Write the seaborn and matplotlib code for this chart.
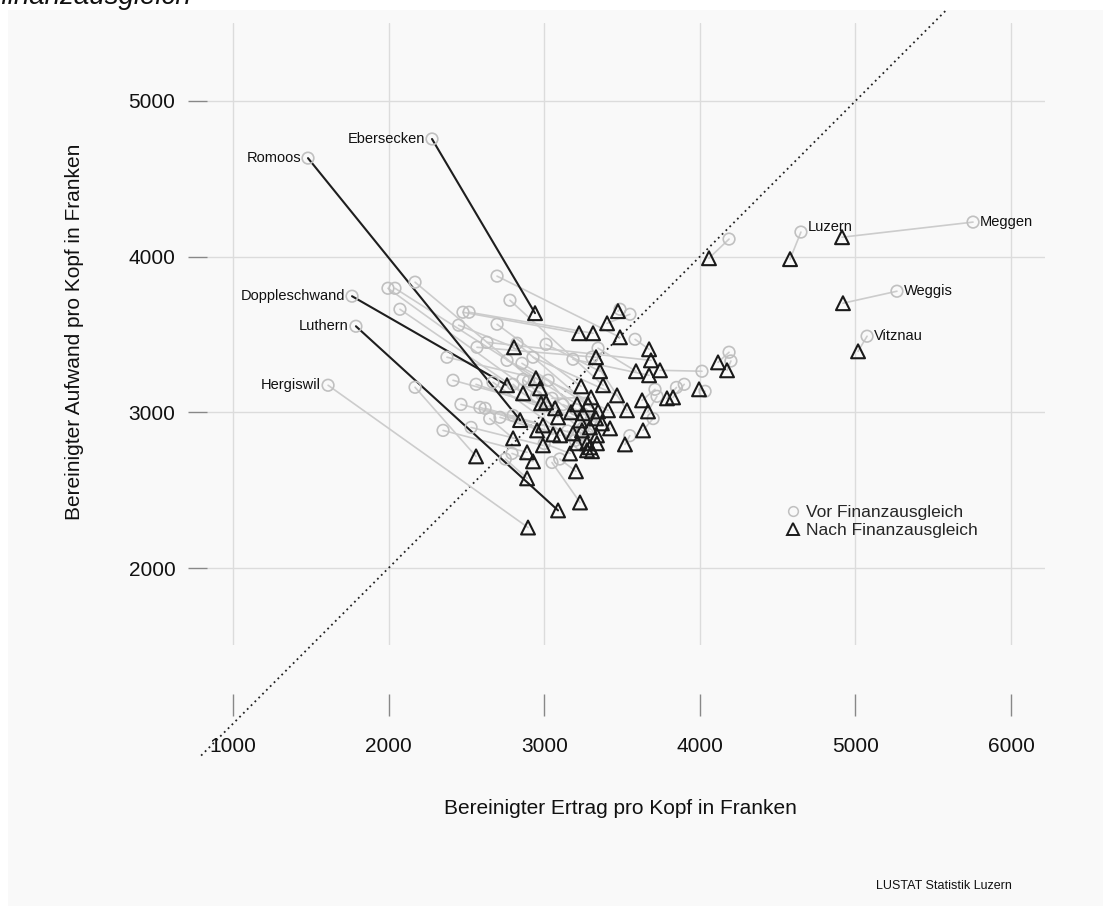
import numpy as np
import pandas as pd
import seaborn as sns
import matplotlib.pyplot as plt
from matplotlib.lines import Line2D
from matplotlib.patches import Rectangle

# Bereinigter Ertrag / Aufwand pro Kopf (Franken), vor und nach Finanzausgleich
gemeinde = [
    "Romoos", "Ebersecken", "Doppleschwand", "Luthern", "Hergiswil",
    "Luzern", "Meggen", "Weggis", "Vitznau", "",
] + [""] * 67

ertrag_vor = [
    1482, 2279, 1765, 1790, 1611, 4650, 5756, 5267, 5075, 4188,
    1996, 2041, 2073, 2170, 2697, 2780, 2478, 2517, 2697, 3487,
    3551, 3012, 3185, 2928, 2857, 2761, 2568, 2632, 2375, 2414,
    2562, 2465, 2587, 2620, 2716, 2350, 2530, 2793, 3050, 3346,
    3584, 4014, 3712, 3725, 4034, 4188, 4200, 3307, 3025, 2864,
    2825, 2671, 2170, 2450, 2900, 2800, 3850, 3900, 3050, 2950,
    3200, 3250, 3300, 3700, 3250, 2650, 3150, 3000, 3200, 3280,
    3550, 3100, 2750, 3230, 3200, 2800, 3120,
]
aufwand_vor = [
    4633, 4756, 3746, 3553, 3174, 4158, 4222, 3778, 3489, 4113,
    3797, 3797, 3662, 3836, 3875, 3720, 3643, 3643, 3566, 3662,
    3630, 3437, 3341, 3354, 3315, 3334, 3418, 3450, 3354, 3206,
    3180, 3051, 3032, 3026, 2968, 2884, 2903, 2736, 2678, 3412,
    3469, 3264, 3148, 3103, 3135, 3386, 3330, 3354, 3206, 3212,
    3444, 3193, 3161, 3560, 3200, 3180, 3160, 3180, 3090, 3100,
    3020, 2990, 2950, 2960, 2900, 2960, 2880, 2800, 2820, 2860,
    2850, 2700, 2700, 2800, 2850, 2980, 3050,
]
ertrag_nach = [
    2845, 2941, 2761, 3089, 2896, 4580, 4914, 4920, 5017, 4059,
    3012, 3211, 3089, 3172, 3487, 3378, 3224, 3314, 3237, 3474,
    3404, 3359, 3674, 3468, 3346, 3410, 3333, 3686, 2947, 3070,
    3230, 2992, 3102, 3185, 3057, 2890, 2992, 2928, 3230, 3590,
    3674, 3744, 3629, 3667, 3995, 4117, 4175, 3532, 3294, 3243,
    3282, 3211, 2562, 2806, 2973, 2864, 3789, 3828, 3301, 2980,
    3333, 3371, 3423, 3635, 3339, 2800, 3275, 3166, 3275, 3339,
    3519, 3204, 2890, 3307, 3294, 2954, 3249,
]
aufwand_nach = [
    2950, 3637, 3174, 2370, 2260, 3984, 4125, 3701, 3392, 3990,
    3064, 3051, 2968, 3000, 3482, 3174, 3508, 3508, 3167, 3650,
    3572, 3264, 3238, 3109, 3006, 3013, 3354, 3334, 3219, 3026,
    2948, 2916, 2852, 2865, 2858, 2743, 2788, 2685, 2421, 3264,
    3405, 3270, 3077, 3006, 3148, 3321, 3270, 3013, 2903, 2884,
    3051, 2801, 2717, 3418, 3154, 3122, 3090, 3096, 3096, 3058,
    2961, 2929, 2897, 2884, 2852, 2833, 2801, 2736, 2756, 2801,
    2794, 2621, 2576, 2750, 2775, 2884, 2994,
]
hervorgehoben = ["Romoos", "Ebersecken", "Doppleschwand", "Luthern"]
links_beschriftet = ["Romoos", "Ebersecken", "Doppleschwand", "Luthern", "Hergiswil"]
rechts_beschriftet = ["Luzern", "Meggen", "Weggis", "Vitznau"]

x_ticks = [1000, 2000, 3000, 4000, 5000, 6000]
y_ticks = [2000, 3000, 4000, 5000]

df = pd.DataFrame({
    "gemeinde": gemeinde,
    "ertrag_vor": ertrag_vor, "aufwand_vor": aufwand_vor,
    "ertrag_nach": ertrag_nach, "aufwand_nach": aufwand_nach,
})
df["id"] = np.arange(len(df))
df["hervor"] = df["gemeinde"].isin(hervorgehoben)

# long format for the connecting segments
seg = pd.concat([
    df[["id", "hervor"]].assign(x=df["ertrag_vor"], y=df["aufwand_vor"], step=0),
    df[["id", "hervor"]].assign(x=df["ertrag_nach"], y=df["aufwand_nach"], step=1),
]).sort_values(["id", "step"])

sns.set_theme(style="white")
plt.rcParams["font.family"] = ["Liberation Sans", "DejaVu Sans"]

W, H = 1103, 906
fig = plt.figure(figsize=(W / 100, H / 100), dpi=100, facecolor="white")

# light panel behind the chart
fig.patches.append(Rectangle((8 / W, 0), 1 - 8 / W, 1 - 10 / H,
                             transform=fig.transFigure, facecolor="#f9f9f9",
                             edgecolor="none", zorder=-10))
fig.text(0 / W, 1 - 4 / H, "finanzausgleich", fontsize=20, style="italic",
         ha="left", va="baseline", color="#111111")

left, right, top, bottom = 207, 1045, 23, 645
ax = fig.add_axes([left / W, 1 - bottom / H, (right - left) / W, (bottom - top) / H])
ax.set_facecolor("none")

px_x = (1011 - 233) / 5000.0
px_y = (568 - 101) / 3000.0
ax.set_xlim(1000 - (233 - left) / px_x, 1000 + (right - 233) / px_x)
ax.set_ylim(5000 - (bottom - 101) / px_y, 5000 + (101 - top) / px_y)

# diagonal y = x
d0, d1 = 795, 5000 + (101 - 10) / px_y
ax.plot([d0, d1], [d0, d1], ls=(0, (1, 2)), color="#222222", lw=1.3,
        clip_on=False, zorder=2)

sns.lineplot(data=seg[~seg["hervor"]], x="x", y="y", units="id", estimator=None,
             sort=False, color="#cccccc", lw=1.2, ax=ax, zorder=3, legend=False)
sns.lineplot(data=seg[seg["hervor"]], x="x", y="y", units="id", estimator=None,
             sort=False, color="#1e1e1e", lw=1.5, ax=ax, zorder=4, legend=False)

sns.scatterplot(data=df, x="ertrag_vor", y="aufwand_vor", marker="o", s=70,
                facecolor="none", edgecolor="#c0c0c0", linewidth=1.2, ax=ax, zorder=5)
sns.scatterplot(data=df, x="ertrag_nach", y="aufwand_nach", marker="^", s=100,
                facecolor="none", edgecolor="#1a1a1a", linewidth=1.5, ax=ax, zorder=6)

for _, r in df.iterrows():
    if r["gemeinde"] in links_beschriftet:
        ax.annotate(r["gemeinde"], (r["ertrag_vor"], r["aufwand_vor"]),
                    xytext=(-5, 0), textcoords="offset points", ha="right",
                    va="center", fontsize=10.5, color="#111111", zorder=7)
    elif r["gemeinde"] in rechts_beschriftet:
        dy = 4 if r["gemeinde"] == "Luzern" else 0
        ax.annotate(r["gemeinde"], (r["ertrag_vor"], r["aufwand_vor"]),
                    xytext=(5, dy), textcoords="offset points", ha="left",
                    va="center", fontsize=10.5, color="#111111", zorder=7)

ax.set_xticks(x_ticks)
ax.set_yticks(y_ticks)
ax.set_xticklabels([str(v) for v in x_ticks])
ax.set_yticklabels([str(v) for v in y_ticks])
ax.grid(True, color="#dcdcdc", lw=1.0)
ax.set_axisbelow(True)
for s in ax.spines.values():
    s.set_linewidth(0)
    s.set_color("none")
ax.spines["bottom"].set_position(("outward", 49 * 0.72))
ax.tick_params(axis="x", direction="out", length=22 * 0.72, width=1,
               color="#888888", pad=15, labelsize=15, labelcolor="#111111", bottom=True)
ax.tick_params(axis="y", direction="out", length=19 * 0.72, width=1,
               color="#888888", pad=9, labelsize=15, labelcolor="#111111", left=True)

ax.set_xlabel("")
ax.set_ylabel("")
fig.text(620 / W, 1 - 809 / H, "Bereinigter Ertrag pro Kopf in Franken",
         fontsize=15, ha="center", va="center", color="#111111")
fig.text(75 / W, 1 - 332 / H, "Bereinigter Aufwand pro Kopf in Franken",
         fontsize=15, ha="center", va="center", rotation=90, color="#111111")
fig.text(1012 / W, 1 - 886 / H, "LUSTAT Statistik Luzern", fontsize=9,
         ha="right", va="center", color="#111111")

handles = [
    Line2D([], [], ls="none", marker="o", ms=7, mfc="none", mec="#c0c0c0", mew=1.1),
    Line2D([], [], ls="none", marker="^", ms=8, mfc="none", mec="#1a1a1a", mew=1.4),
]
ax.legend(handles, ["Vor Finanzausgleich", "Nach Finanzausgleich"],
          loc="upper left", bbox_to_anchor=(776 / W, 1 - 496 / H),
          bbox_transform=fig.transFigure, frameon=False, fontsize=12.5,
          handlelength=1.0, handletextpad=0.2, labelspacing=0.15, borderpad=0)

fig.savefig("out.png", dpi=100, facecolor=fig.get_facecolor())
